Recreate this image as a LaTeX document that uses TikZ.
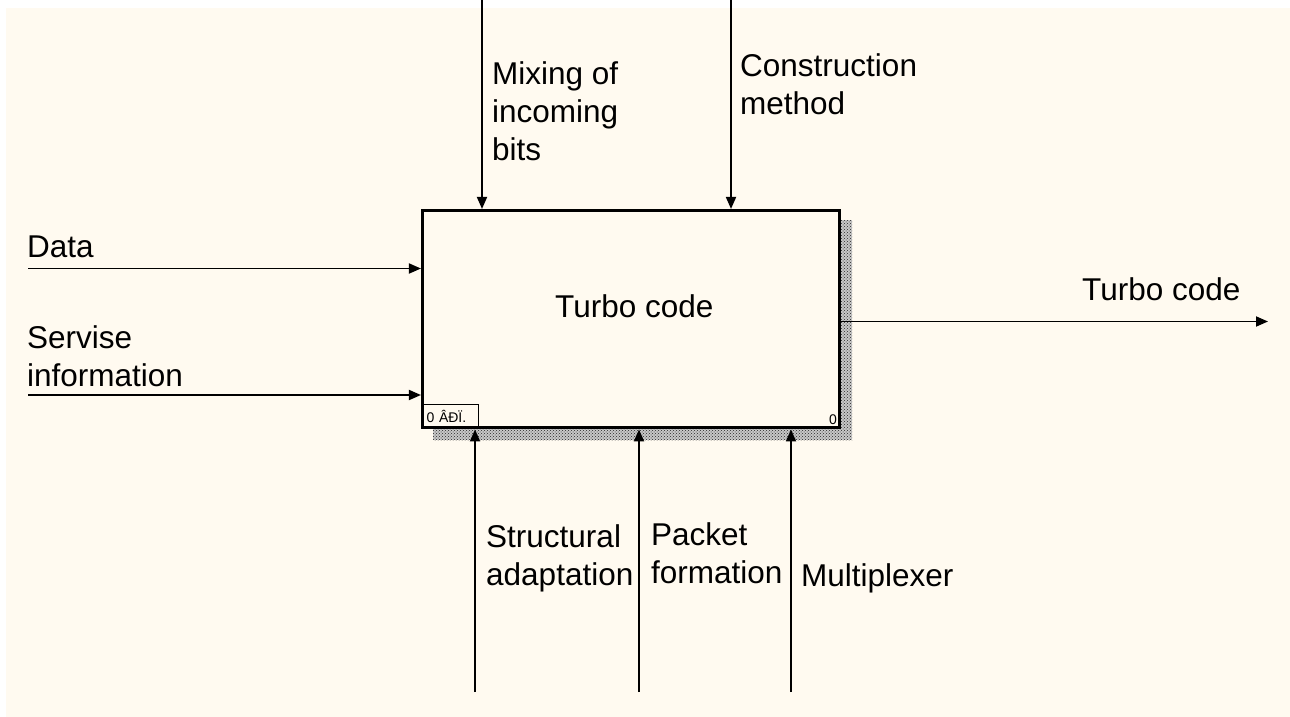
\documentclass[tikz,border=0pt]{standalone}
\usepackage{fontspec}
\setmainfont{Liberation Sans}
\usetikzlibrary{arrows.meta,patterns}
\definecolor{paper}{RGB}{255,250,240}
\begin{document}
\begin{tikzpicture}[x=1pt,y=-1pt,
  flow/.style={line width=1.8pt,-{Triangle[length=12pt,width=10pt]}},
  lbl/.style={anchor=base west,align=left,inner sep=0pt,
    font=\fontsize{31.5}{38}\selectfont},
  small/.style={inner sep=0pt,font=\fontsize{14}{16}\selectfont}]
  \useasboundingbox (0,0) rectangle (1290,717);
  \fill[paper] (6,8) rectangle (1290,717);

  % hatched shadow of the activity box
  \fill[black!22] (433,220) rectangle (852,440);
  \fill[pattern=crosshatch dots,pattern color=black!85] (433,220) rectangle (852,440);

  % activity box
  \node[draw,line width=3.5pt,fill=paper,minimum width=416.6pt,minimum height=217pt,
        inner sep=0pt] (box) at (631,319.2) {};
  \node[lbl] (title) at (555,317) {Turbo code};
  \node[draw,line width=1.2pt,anchor=south west,minimum width=55pt,minimum height=24pt,
        small,text width=47pt,inner xsep=5pt,align=left] (tag) at (box.south west) {0 ÂÐÏ.};
  \node[small,anchor=base east] (num) at (837,424) {0};

  % free ends of the arrows
  \coordinate (data) at (28,268.5);
  \coordinate (serv) at (28,395);
  \coordinate (mix) at (482,0);
  \coordinate (cons) at (731,0);
  \coordinate (out) at (1268,321.5);
  \coordinate (struct) at (475,692);
  \coordinate (pack) at (639,692);
  \coordinate (mux) at (791,692);

  % inputs
  \draw[flow] (data) -- (data -| box.west);
  \draw[flow] (serv) -- (serv -| box.west);
  % controls
  \draw[flow] (mix) -- (mix |- box.north);
  \draw[flow] (cons) -- (cons |- box.north);
  % output
  \draw[flow] (out -| box.east) -- (out);
  % mechanisms
  \draw[flow] (struct) -- (struct |- box.south);
  \draw[flow] (pack) -- (pack |- box.south);
  \draw[flow] (mux) -- (mux |- box.south);

  % arrow labels (multi-line labels are placed by their last baseline)
  \node[lbl] (ldata) at (27,257) {Data};
  \node[lbl] (lserv) at (27,386) {Servise\\information};
  \node[lbl] (lmix) at (492,160) {Mixing of\\incoming\\bits};
  \node[lbl] (lcons) at (740,114) {Construction\\method};
  \node[lbl] (lout) at (1082,300) {Turbo code};
  \node[lbl] (lstruct) at (486,585) {Structural\\adaptation};
  \node[lbl] (lpack) at (651,583) {Packet\\formation};
  \node[lbl] (lmux) at (801,586) {Multiplexer};
\end{tikzpicture}
\end{document}
